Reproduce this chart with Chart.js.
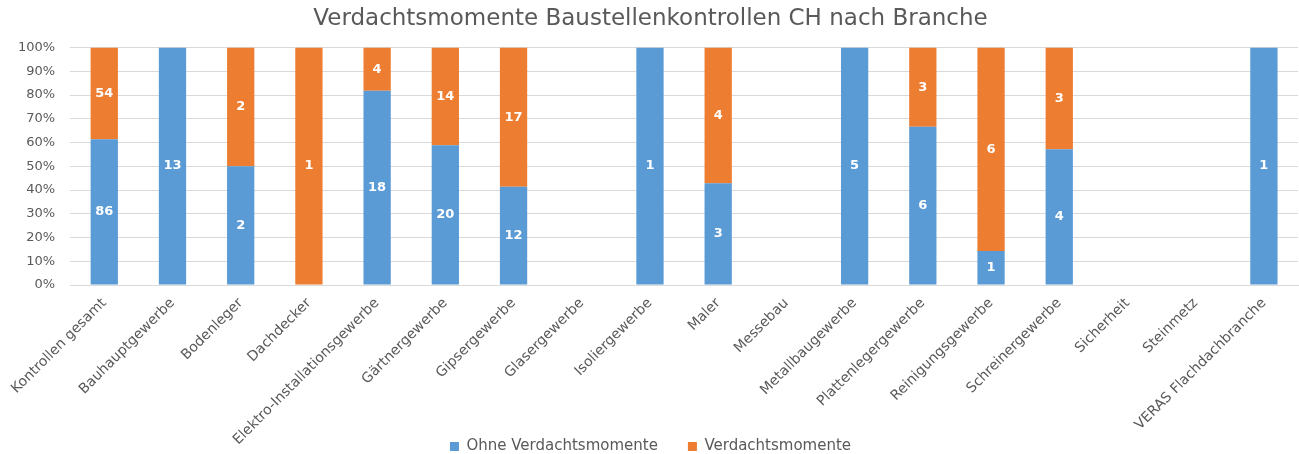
<!DOCTYPE html>
<html>
<head>
<meta charset="utf-8">
<script src="https://cdn.jsdelivr.net/npm/chart.js@4/dist/chart.umd.min.js"></script>
<style>
  html, body { margin: 0; padding: 0; background: #fff; }
  #wrap { width: 1299px; height: 454px; }
</style>
</head>
<body>
<div id="wrap"><canvas id="chart"></canvas></div>
<script>
const branchen = ['Kontrollen gesamt', 'Bauhauptgewerbe', 'Bodenleger', 'Dachdecker',
  'Elektro-Installationsgewerbe', 'Gärtnergewerbe', 'Gipsergewerbe', 'Glasergewerbe',
  'Isoliergewerbe', 'Maler', 'Messebau', 'Metallbaugewerbe', 'Plattenlegergewerbe',
  'Reinigungsgewerbe', 'Schreinergewerbe', 'Sicherheit', 'Steinmetz', 'VERAS Flachdachbranche'];
const ohneVerdacht = [86, 13, 2, 0, 18, 20, 12, 0, 1, 3, 0, 5, 6, 1, 4, 0, 0, 1];
const mitVerdacht  = [54, 0, 2, 1, 4, 14, 17, 0, 0, 4, 0, 0, 3, 6, 3, 0, 0, 0];
const yTicks = [0, 10, 20, 30, 40, 50, 60, 70, 80, 90, 100];

// 100%-Anteile aus den Zählungen
const totals = branchen.map((_, i) => ohneVerdacht[i] + mitVerdacht[i]);
const share = arr => arr.map((v, i) => totals[i] ? v / totals[i] * 100 : 0);

const fontFam = '"DejaVu Sans", sans-serif';
const grey = '#595959';

// Werte (Anzahl) in die Balken schreiben
const countLabels = {
  id: 'countLabels',
  afterLayout(chart) {
    // Achsenbeschriftung unten nicht abschneiden (ragt in den Legendenbereich)
    chart.scales.x.bottom = chart.height;
  },
  afterDatasetsDraw(chart) {
    const ctx = chart.ctx;
    ctx.save();
    ctx.font = 'bold 13px ' + fontFam;
    ctx.fillStyle = '#fff';
    ctx.textAlign = 'center';
    ctx.textBaseline = 'middle';
    chart.data.datasets.forEach((ds, di) => {
      chart.getDatasetMeta(di).data.forEach((bar, i) => {
        const n = ds.counts[i];
        if (!n) return;
        ctx.fillText(String(n), bar.x, (bar.y + bar.base) / 2);
      });
    });
    ctx.restore();
  }
};

const ctx = document.getElementById('chart').getContext('2d');
new Chart(ctx, {
  type: 'bar',
  data: {
    labels: branchen,
    datasets: [
      {
        label: 'Ohne Verdachtsmomente',
        data: share(ohneVerdacht),
        counts: ohneVerdacht,
        backgroundColor: '#5B9BD5',
        barPercentage: 0.4,
        categoryPercentage: 1
      },
      {
        label: 'Verdachtsmomente',
        data: share(mitVerdacht),
        counts: mitVerdacht,
        backgroundColor: '#ED7D31',
        barPercentage: 0.4,
        categoryPercentage: 1
      }
    ]
  },
  options: {
    responsive: true,
    maintainAspectRatio: false,
    animation: false,
    layout: { padding: { left: 3, right: 1, top: 1, bottom: -10 } },
    plugins: {
      title: {
        display: true,
        text: 'Verdachtsmomente Baustellenkontrollen CH nach Branche',
        color: grey,
        font: { family: fontFam, size: 23, weight: 'normal' },
        padding: { top: 4, bottom: 15 }
      },
      legend: {
        position: 'bottom',
        labels: {
          color: grey,
          font: { family: fontFam, size: 15 },
          boxWidth: 9,
          boxHeight: 9,
          padding: 30
        }
      },
      tooltip: { enabled: false }
    },
    scales: {
      x: {
        stacked: true,
        grid: { display: false },
        border: { color: '#d9d9d9' },
        afterFit: axis => { axis.height = 124; },
        ticks: {
          color: grey,
          font: { family: fontFam, size: 14 },
          maxRotation: 45,
          minRotation: 45,
          autoSkip: false,
          padding: 2
        }
      },
      y: {
        stacked: true,
        min: 0,
        max: 100,
        afterBuildTicks: axis => { axis.ticks = yTicks.map(v => ({ value: v })); },
        grid: { color: '#d9d9d9', drawTicks: false },
        border: { display: false },
        ticks: {
          color: grey,
          font: { family: fontFam, size: 13 },
          padding: 15,
          callback: v => v + '%'
        }
      }
    }
  },
  plugins: [countLabels]
});
</script>
</body>
</html>
